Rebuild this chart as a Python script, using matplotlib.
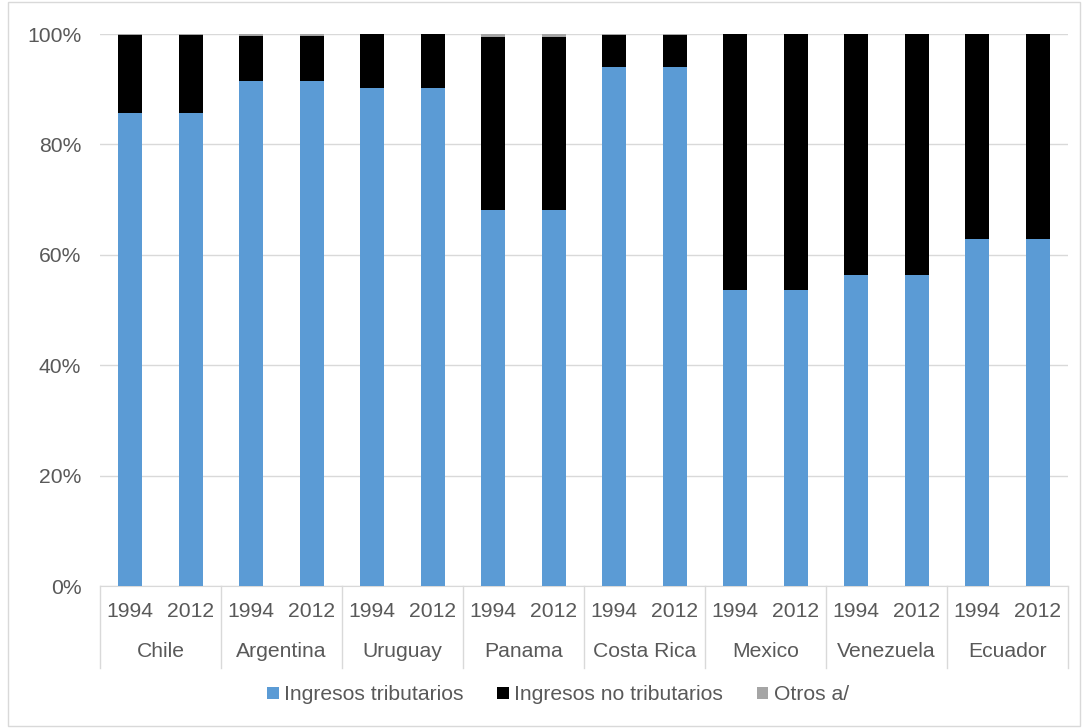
import matplotlib.pyplot as plt
from matplotlib.patches import Rectangle
from matplotlib.ticker import FuncFormatter
import matplotlib.transforms as mtransforms

plt.rcParams['font.family'] = ['Liberation Sans', 'DejaVu Sans']

countries = ["Chile", "Argentina", "Uruguay", "Panama", "Costa Rica",
             "Mexico", "Venezuela", "Ecuador"]
years = ["1994", "2012"]

# shares in % per country, same value for 1994 and 2012
tributarios = [85.7, 91.5, 90.3, 68.1, 94.1, 53.6, 56.3, 62.9]
otros = [0.2, 0.4, 0.0, 0.5, 0.1, 0.0, 0.0, 0.0]
no_tributarios = [100 - t - o for t, o in zip(tributarios, otros)]

blue = "#5b9bd5"
black = "#000000"
grey = "#a5a5a5"
txt = "#595959"
fs = 15.2

fig = plt.figure(figsize=(10.84, 7.28), dpi=100)
ax = fig.add_axes([100 / 1084, 1 - 586 / 728, 968 / 1084, 552 / 728])

xs, trib, notrib, otr = [], [], [], []
for i in range(len(countries)):
    for j in range(len(years)):
        xs.append(i * 2 + j + 0.5)
        trib.append(tributarios[i])
        notrib.append(no_tributarios[i])
        otr.append(otros[i])

w = 0.4
ax.bar(xs, trib, w, color=blue, label="Ingresos tributarios", zorder=3)
ax.bar(xs, notrib, w, bottom=trib, color=black, label="Ingresos no tributarios", zorder=3)
ax.bar(xs, otr, w, bottom=[a + b for a, b in zip(trib, notrib)], color=grey,
       label="Otros a/", zorder=3)

ax.set_xlim(0, 16)
ax.set_ylim(0, 100)
ax.set_yticks(range(0, 101, 20))
ax.yaxis.set_major_formatter(FuncFormatter(lambda v, p: "%d%%" % v))
ax.tick_params(axis="y", length=0, labelsize=fs, colors=txt, pad=13.5)
ax.set_xticks([])
ax.grid(axis="y", color="#d9d9d9", linewidth=1, zorder=0)
for s in ["top", "right", "left"]:
    ax.spines[s].set_visible(False)
ax.spines["bottom"].set_color("#d9d9d9")

# two level category axis
trans = mtransforms.blended_transform_factory(ax.transData, ax.transAxes)
for k in range(len(countries) + 1):
    ax.plot([2 * k, 2 * k], [0, -0.148], transform=trans, color="#d9d9d9",
            linewidth=1, clip_on=False)
for i, c in enumerate(countries):
    for j, y in enumerate(years):
        ax.text(i * 2 + j + 0.5, -0.046, y, transform=trans, ha="center",
                va="center", fontsize=fs, color=txt)
    ax.text(i * 2 + 1, -0.119, c, transform=trans, ha="center", va="center",
            fontsize=fs, color=txt)

fig.legend(loc="center", bbox_to_anchor=(558 / 1084, 1 - 695 / 728), ncol=3,
           frameon=False, fontsize=fs, labelcolor=txt, handlelength=0.55,
           handleheight=0.55, handletextpad=0.25, columnspacing=1.6)

fig.patches.append(Rectangle((8 / 1084, 2 / 728), 1072 / 1084, 724 / 728,
                             transform=fig.transFigure, fill=False,
                             edgecolor="#d9d9d9", linewidth=1))

fig.savefig("out.png", dpi=100)
